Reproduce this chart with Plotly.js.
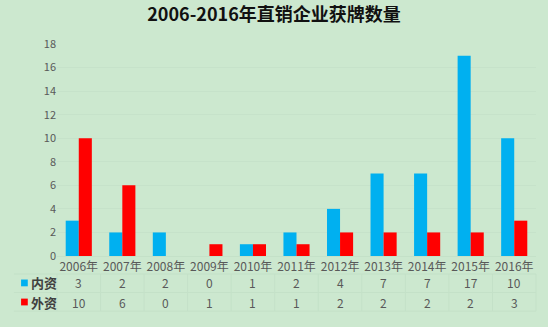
<!DOCTYPE html>
<html>
<head>
<meta charset="utf-8">
<script src="https://cdn.plot.ly/plotly-3.0.1.min.js"></script>
<style>html,body{margin:0;padding:0;background:#CCE8CF;}#chart{width:548px;height:327px;}</style>
</head>
<body>
<div id="chart"></div>
<script>
var categories = ["2006年","2007年","2008年","2009年","2010年","2011年","2012年","2013年","2014年","2015年","2016年"];
var domestic = [3,2,2,0,1,2,4,7,7,17,10];
var foreign = [10,6,0,1,1,1,2,2,2,2,3];
var seriesNames = ["内资","外资"];
var colors = ["#00B0F0","#FF0000"];
var yTicks = [0,2,4,6,8,10,12,14,16,18];

var font = "'Noto Sans CJK SC', 'Noto Sans', sans-serif";
var traces = [
  {type:"bar", x:categories, y:domestic, name:seriesNames[0], marker:{color:colors[0]}, hoverinfo:"none"},
  {type:"bar", x:categories, y:foreign, name:seriesNames[1], marker:{color:colors[1]}, hoverinfo:"none"}
];

var annotations = [];
var rows = [domestic, foreign];
var rowY = [-0.127, -0.217];
rows.forEach(function(vals, r){
  vals.forEach(function(v, i){
    annotations.push({xref:"x", yref:"paper", x:categories[i], y:rowY[r], text:String(v), showarrow:false,
      font:{family:font, size:12, color:"#595959"}, xanchor:"center", yanchor:"middle"});
  });
  annotations.push({xref:"paper", yref:"paper", x:-0.058, y:rowY[r], text:"<b>"+seriesNames[r]+"</b>", showarrow:false,
    font:{family:font, size:13, color:"#404040"}, xanchor:"left", yanchor:"middle"});
});

var shapes = [];
rows.forEach(function(vals, r){
  shapes.push({type:"rect", xref:"paper", yref:"paper", x0:-0.075, x1:-0.061, y0:rowY[r]-0.016, y1:rowY[r]+0.016,
    fillcolor:colors[r], line:{width:0}});
});
// faint table grid lines
for (var k = 0; k <= categories.length; k++) {
  shapes.push({type:"line", xref:"paper", yref:"paper", x0:k/categories.length, x1:k/categories.length, y0:-0.085, y1:-0.26,
    line:{color:"#C4E1C8", width:1}});
}
[-0.085,-0.172,-0.26].forEach(function(yy){
  shapes.push({type:"line", xref:"paper", yref:"paper", x0:-0.09, x1:1, y0:yy, y1:yy, line:{color:"#C4E1C8", width:1}});
});

var layout = {
  width:548, height:327,
  paper_bgcolor:"#CCE8CF", plot_bgcolor:"#CCE8CF",
  margin:{l:57, r:12, t:44, b:71},
  title:{text:"<b>2006-2016年直销企业获牌数量</b>", x:0.5, xanchor:"center", y:0.955, yanchor:"middle",
    font:{family:font, size:18, color:"#111111"}},
  showlegend:false,
  bargap:0.4, bargroupgap:0,
  xaxis:{type:"category", tickfont:{family:font, size:12, color:"#595959"}, showline:true, linecolor:"#C4E1C8",
    ticks:"", showgrid:false, fixedrange:true},
  yaxis:{range:[0,18], tickvals:yTicks, tickfont:{family:font, size:11, color:"#595959"}, gridcolor:"#C6E2CA",
    zeroline:false, showline:false, ticks:"", ticklen:0, fixedrange:true},
  annotations:annotations,
  shapes:shapes
};
Plotly.newPlot("chart", traces, layout, {displayModeBar:false, staticPlot:true});
</script>
</body>
</html>
